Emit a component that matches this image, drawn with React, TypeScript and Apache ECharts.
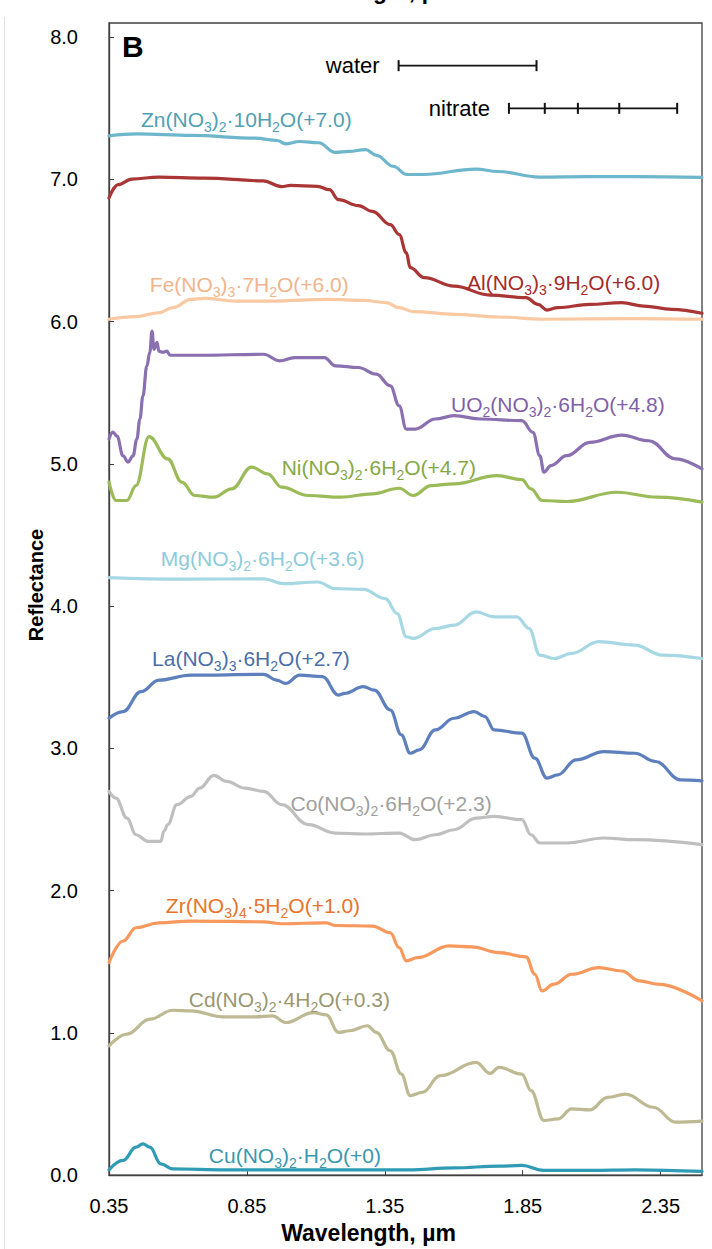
import React, { useEffect, useRef } from "react";
import * as echarts from "echarts";

const FONT = "'Liberation Sans', Arial, sans-serif";

// Axis ticks
const xTicks = [0.35, 0.85, 1.35, 1.85, 2.35];
const yTicks = [0, 1, 2, 3, 4, 5, 6, 7, 8];

// Reflectance spectra [wavelength µm, reflectance], before the vertical offset
const znSpectrum = [[0.35,0.307],[0.45,0.32],[0.65,0.31],[0.88,0.29],[0.96,0.274],[0.99,0.25],[1.04,0.267],[1.11,0.258],[1.17,0.19],[1.22,0.197],[1.28,0.21],[1.32,0.17],[1.38,0.093],[1.43,0.035],[1.49,0.035],[1.68,0.073],[1.76,0.056],[1.91,0.017],[2.09,0.02],[2.26,0.02],[2.5,0.015]];
const alSpectrum = [[0.35,0.87],[0.383,0.963],[0.433,1.003],[0.531,1.017],[0.695,1.01],[0.909,0.99],[0.976,0.95],[1.008,0.958],[1.106,0.952],[1.149,0.928],[1.182,0.858],[1.254,0.816],[1.305,0.776],[1.37,0.683],[1.402,0.613],[1.428,0.485],[1.442,0.38],[1.493,0.31],[1.601,0.25],[1.732,0.187],[1.862,0.169],[1.905,0.122],[1.938,0.082],[1.977,0.099],[2.093,0.122],[2.209,0.134],[2.289,0.11],[2.39,0.087],[2.5,0.059]];
const feSpectrum = [[0.35,0.017],[0.448,0.036],[0.531,0.063],[0.582,0.099],[0.647,0.157],[0.695,0.164],[0.811,0.145],[0.945,0.145],[1.14,0.157],[1.275,0.15],[1.355,0.134],[1.402,0.099],[1.453,0.071],[1.601,0.052],[1.764,0.033],[1.927,0.017],[2.256,0.022],[2.5,0.017]];
const uo2Spectrum = [[0.35,0.375],[0.364,0.424],[0.379,0.396],[0.401,0.256],[0.419,0.214],[0.437,0.256],[0.451,0.375],[0.462,0.516],[0.473,0.677],[0.487,0.887],[0.498,0.985],[0.506,1.133],[0.513,1.006],[0.524,1.055],[0.531,0.993],[0.545,0.985],[0.56,0.993],[0.571,0.964],[0.679,0.964],[0.911,0.971],[0.968,0.925],[1.023,0.948],[1.131,0.948],[1.171,0.89],[1.254,0.878],[1.319,0.831],[1.37,0.749],[1.402,0.609],[1.428,0.445],[1.46,0.445],[1.533,0.516],[1.601,0.539],[1.699,0.516],[1.847,0.504],[1.887,0.422],[1.912,0.258],[1.927,0.142],[1.952,0.188],[2.01,0.258],[2.093,0.352],[2.209,0.403],[2.307,0.363],[2.404,0.235],[2.5,0.165]];
const niSpectrum = [[0.35,0.172],[0.375,0.043],[0.415,0.043],[0.448,0.148],[0.495,0.492],[0.563,0.335],[0.614,0.172],[0.661,0.078],[0.73,0.066],[0.795,0.125],[0.867,0.277],[0.925,0.23],[0.976,0.137],[1.073,0.078],[1.189,0.066],[1.305,0.09],[1.402,0.129],[1.453,0.078],[1.518,0.148],[1.601,0.16],[1.757,0.218],[1.847,0.19],[1.88,0.125],[1.92,0.043],[2.01,0.036],[2.191,0.101],[2.339,0.066],[2.5,0.031]];
const mgSpectrum = [[0.35,0.601],[0.614,0.59],[0.911,0.592],[0.983,0.558],[1.106,0.57],[1.171,0.523],[1.272,0.518],[1.352,0.453],[1.395,0.348],[1.428,0.185],[1.453,0.173],[1.533,0.243],[1.601,0.266],[1.681,0.36],[1.746,0.325],[1.829,0.325],[1.873,0.243],[1.912,0.056],[1.963,0.032],[2.028,0.068],[2.126,0.15],[2.256,0.126],[2.357,0.056],[2.5,0.032]];
const laSpectrum = [[0.35,0.512],[0.401,0.559],[0.466,0.699],[0.531,0.78],[0.647,0.815],[0.911,0.82],[0.958,0.78],[0.99,0.757],[1.041,0.815],[1.124,0.804],[1.182,0.675],[1.204,0.687],[1.272,0.734],[1.312,0.71],[1.37,0.57],[1.41,0.395],[1.442,0.266],[1.475,0.29],[1.533,0.43],[1.601,0.512],[1.674,0.559],[1.713,0.524],[1.746,0.43],[1.847,0.407],[1.894,0.231],[1.938,0.091],[1.977,0.114],[2.043,0.219],[2.144,0.278],[2.256,0.266],[2.332,0.208],[2.422,0.079],[2.5,0.072]];
const coSpectrum = [[0.35,0.398],[0.375,0.351],[0.415,0.21],[0.448,0.093],[0.491,0.047],[0.538,0.047],[0.549,0.117],[0.563,0.164],[0.596,0.304],[0.647,0.363],[0.679,0.421],[0.73,0.51],[0.777,0.468],[0.842,0.421],[0.911,0.398],[0.976,0.304],[1.073,0.164],[1.171,0.105],[1.272,0.098],[1.402,0.105],[1.46,0.058],[1.533,0.093],[1.601,0.128],[1.681,0.21],[1.746,0.222],[1.847,0.199],[1.88,0.093],[1.912,0.035],[2.01,0.035],[2.144,0.07],[2.256,0.058],[2.5,0.023]];
const zrSpectrum = [[0.35,0.494],[0.401,0.646],[0.448,0.739],[0.531,0.774],[0.647,0.786],[0.911,0.781],[0.976,0.767],[1.138,0.774],[1.171,0.755],[1.305,0.751],[1.37,0.704],[1.402,0.599],[1.428,0.506],[1.468,0.529],[1.583,0.611],[1.666,0.604],[1.764,0.564],[1.862,0.534],[1.894,0.412],[1.92,0.295],[1.963,0.342],[2.028,0.412],[2.126,0.459],[2.209,0.435],[2.274,0.365],[2.339,0.342],[2.5,0.225]];
const cdSpectrum = [[0.35,0.609],[0.415,0.691],[0.498,0.796],[0.581,0.859],[0.647,0.855],[0.762,0.813],[0.878,0.813],[0.943,0.82],[0.99,0.773],[1.091,0.843],[1.138,0.827],[1.182,0.703],[1.222,0.715],[1.287,0.75],[1.319,0.703],[1.37,0.574],[1.41,0.41],[1.442,0.259],[1.486,0.282],[1.551,0.399],[1.681,0.492],[1.732,0.415],[1.764,0.457],[1.847,0.41],[1.88,0.294],[1.927,0.084],[1.977,0.095],[2.028,0.165],[2.093,0.158],[2.158,0.247],[2.223,0.27],[2.324,0.177],[2.404,0.072],[2.5,0.079]];
const cuSpectrum = [[0.35,0.037],[0.401,0.103],[0.448,0.196],[0.473,0.22],[0.498,0.196],[0.538,0.079],[0.581,0.044],[0.777,0.037],[1.435,0.037],[1.601,0.051],[1.764,0.063],[1.847,0.068],[1.927,0.033],[2.093,0.033],[2.256,0.037],[2.5,0.026]];

// Compounds ("_" marks a subscript digit) and their vertical offsets
const compounds = [
  "Zn(NO_3)_2·10H_2O",
  "Al(NO_3)_3·9H_2O",
  "Fe(NO_3)_3·7H_2O",
  "UO_2(NO_3)_2·6H_2O",
  "Ni(NO_3)_2·6H_2O",
  "Mg(NO_3)_2·6H_2O",
  "La(NO_3)_3·6H_2O",
  "Co(NO_3)_2·6H_2O",
  "Zr(NO_3)_4·5H_2O",
  "Cd(NO_3)_2·4H_2O",
  "Cu(NO_3)_2·H_2O",
];
const offsets = [7.0, 6.0, 6.0, 4.8, 4.7, 3.6, 2.7, 2.3, 1.0, 0.3, 0];
const spectra = [znSpectrum, alSpectrum, feSpectrum, uo2Spectrum, niSpectrum, mgSpectrum, laSpectrum, coSpectrum, zrSpectrum, cdSpectrum, cuSpectrum];

const lineColors = ["#6db6cc", "#a93535", "#f9c9a3", "#8a70b0", "#9bbb59", "#a6d8e3", "#5d80bd", "#bfbfbf", "#f7985c", "#bdb993", "#2f9bb5"];
const labelColors = ["#4f9fb5", "#a52a2a", "#f2b48a", "#7f5fa6", "#86a844", "#8ccbdb", "#4a6ea8", "#a0a0a0", "#e8732a", "#9a9670", "#3a97ad"];
// left-middle anchor of each compound label, in axis units
const labelAnchors = [[0.466, 7.41], [1.648, 6.262], [0.498, 6.248], [1.59, 5.406], [0.976, 4.958], [0.538, 4.32], [0.506, 3.619], [1.008, 2.602], [0.556, 1.879], [0.639, 1.22], [0.712, 0.126]];

// Band markers: water and nitrate absorption positions
const waterBands = [1.4, 1.9];
const waterLevel = 7.8;
const nitrateBands = [1.8, 1.93, 2.05, 2.2, 2.41];
const nitrateLevel = 7.5;

function richLabel(formula: string, offset: number) {
  const offsetText = offset === 0 ? "0" : offset.toFixed(1);
  const parts = `${formula}(+${offsetText})`.split(/_(\d)/);
  return parts.map((p, i) => (i % 2 ? `{s|${p}}` : p ? `{n|${p}}` : "")).join("");
}

function bandSeries(name: string, bands: number[], level: number) {
  return {
    type: "line",
    name,
    data: bands.map((b, i) =>
      i === 0
        ? {
            value: [b, level],
            label: {
              show: true,
              position: "left",
              distance: 18,
              formatter: name,
              color: "#000",
              fontSize: 22,
              fontFamily: FONT,
            },
          }
        : [b, level]
    ),
    symbol: "rect",
    symbolSize: [2, 11],
    showSymbol: true,
    itemStyle: { color: "#111" },
    lineStyle: { color: "#111", width: 1.6 },
    z: 5,
  };
}

export default function App() {
  const ref = useRef<HTMLDivElement>(null);

  useEffect(() => {
    const el = ref.current;
    if (!el) return;
    const chart = echarts.init(el, null, { renderer: "svg" });

    const spectrumSeries = spectra.map((s, i) => ({
      type: "line",
      name: compounds[i],
      data: s.map(([w, r]) => [w, +(r + offsets[i]).toFixed(4)]),
      showSymbol: false,
      symbol: "none",
      smooth: 0.4,
      smoothMonotone: "x",
      lineStyle: { color: lineColors[i], width: 3.2, cap: "round", join: "round" },
      z: 3,
    }));

    const option: any = {
      animation: false,
      backgroundColor: "#fff",
      grid: {
        left: 109,
        right: 10,
        top: 23,
        bottom: 71,
        show: true,
        borderColor: "#404040",
        borderWidth: 1.3,
        backgroundColor: "transparent",
      },
      xAxis: {
        type: "value",
        min: 0.35,
        max: 2.5,
        name: "Wavelength, µm",
        nameLocation: "middle",
        nameGap: 43,
        nameTextStyle: {
          fontFamily: FONT,
          fontWeight: "bold",
          fontSize: 23,
          color: "#000",
          padding: [0, 74, 0, 0],
        },
        axisLine: { lineStyle: { color: "#404040", width: 1.3 } },
        axisTick: { inside: true, length: 5, customValues: xTicks, lineStyle: { color: "#404040" } },
        axisLabel: {
          customValues: xTicks,
          formatter: (v: number) => v.toFixed(2),
          fontFamily: FONT,
          fontSize: 20,
          color: "#000",
          margin: 21,
        },
        splitLine: { show: false },
      },
      yAxis: {
        type: "value",
        min: 0,
        max: 8.1,
        axisLine: { show: true, lineStyle: { color: "#404040", width: 1.3 } },
        axisTick: { show: true, inside: true, length: 5, customValues: yTicks, lineStyle: { color: "#404040" } },
        axisLabel: {
          customValues: yTicks,
          formatter: (v: number) => v.toFixed(1),
          fontFamily: FONT,
          fontSize: 20,
          color: "#000",
          margin: 31,
        },
        splitLine: { show: false },
      },
      series: [...spectrumSeries, bandSeries("water", waterBands, waterLevel), bandSeries("nitrate", nitrateBands, nitrateLevel)],
    };
    chart.setOption(option);

    const labelGraphics = compounds.map((c, i) => {
      const [px, py] = chart.convertToPixel({ gridIndex: 0 }, labelAnchors[i]) as number[];
      return {
        type: "text",
        x: px,
        y: py,
        z: 10,
        style: {
          text: richLabel(c, offsets[i]),
          fill: labelColors[i],
          align: "left",
          verticalAlign: "middle",
          rich: {
            n: { fontFamily: FONT, fontSize: 21, lineHeight: 25, verticalAlign: "top", fill: labelColors[i] },
            s: { fontFamily: FONT, fontSize: 14, verticalAlign: "bottom", fill: labelColors[i] },
          },
        },
      };
    });

    chart.setOption({
      graphic: [
        // faint outer frame of the figure
        { type: "line", shape: { x1: 4.5, y1: 17, x2: 4.5, y2: 1249 }, style: { stroke: "#e4e4e4", lineWidth: 1 } },
        // axis title of the panel above, cut by the top edge
        {
          type: "text",
          x: 368,
          y: -9,
          style: { text: "Wavelength, µm", font: `bold 23px ${FONT}`, fill: "#000", align: "center", verticalAlign: "middle" },
        },
        {
          type: "text",
          x: 122,
          y: 31,
          style: { text: "B", font: `bold 30px ${FONT}`, fill: "#000", align: "left", verticalAlign: "top" },
        },
        {
          type: "text",
          x: 36,
          y: 585,
          rotation: Math.PI / 2,
          style: { text: "Reflectance", font: `bold 20px ${FONT}`, fill: "#000", align: "center", verticalAlign: "middle" },
        },
        ...labelGraphics,
      ],
    });

    return () => chart.dispose();
  }, []);

  return (
    <div
      ref={ref}
      style={{ position: "fixed", left: 0, top: 0, width: 712, height: 1249, background: "#fff" }}
    />
  );
}
